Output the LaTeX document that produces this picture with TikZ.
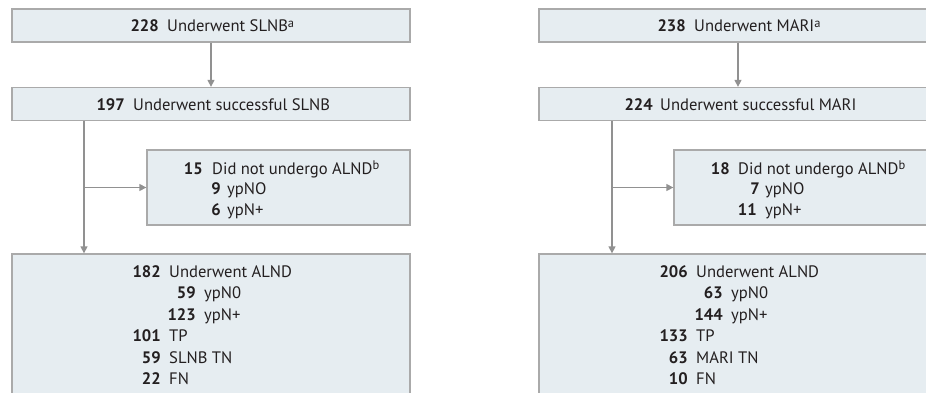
\documentclass[tikz,border=0pt]{standalone}
\usepackage{fontspec}
\setmainfont{PT Sans}
\usetikzlibrary{arrows.meta}
\definecolor{boxfill}{RGB}{230,237,241}
\definecolor{boxline}{RGB}{170,170,170}
\definecolor{arr}{RGB}{145,145,145}
\definecolor{txt}{RGB}{35,31,32}
\newcommand{\supr}[1]{\raisebox{0.6ex}{\fontsize{12.5}{13}\selectfont #1}}
\begin{document}
\begin{tikzpicture}[x=1pt,y=-1pt,
  box/.style={draw=boxline, fill=boxfill, line width=1.3pt, rectangle, inner sep=0pt},
  num/.style={anchor=base east, inner sep=0pt, text=txt, font=\fontsize{16.6}{18}\selectfont\bfseries},
  lab/.style={anchor=base west, inner sep=0pt, text=txt, font=\fontsize{16.6}{18}\selectfont},
  conn/.style={draw=arr, line width=1.3pt, -{Triangle[length=7pt,width=7pt]}}]
\useasboundingbox (0,0) rectangle (926,393);
\clip (0,0) rectangle (926,393);
% ---------- left column ----------
\node[box, minimum width=398pt, minimum height=33pt] (t1) at (211,25.5) {};
\node[box, minimum width=398pt, minimum height=33pt] (s1) at (211,104) {};
\node[box, minimum width=263pt, minimum height=75pt] (m1) at (278.5,187.5) {};
\node[box, minimum width=398pt, minimum height=160pt] (b1) at (211,334) {};
\coordinate (v1) at (84,120);
\draw[conn] (t1.south) -- (s1.north);
\draw[conn] (s1.south -| v1) -- (b1.north -| v1);
\draw[conn] (m1.west -| v1) -- (m1.west);
% texts
\node[num] (t1n) at (159,32) {228};
\node[lab] (t1l) at (167,32) {Underwent SLNB\supr{a}};
\node[num] (s1n) at (125,110.5) {197};
\node[lab] (s1l) at (133,110.5) {Underwent successful SLNB};
\node[num] (m1n1) at (203,174) {15};
\node[lab] (m1l1) at (212,174) {Did not undergo ALND\supr{b}};
\node[num] (m1n2) at (221,194.5) {9};
\node[lab] (m1l2) at (227,194.5) {ypNO};
\node[num] (m1n3) at (221,215) {6};
\node[lab] (m1l3) at (227,215) {ypN+};
\node[num] (b1n1) at (161,277) {182};
\node[lab] (b1l1) at (169,277) {Underwent ALND};
\node[num] (b1n2) at (196,298.5) {59};
\node[lab] (b1l2) at (204,298.5) {ypN0};
\node[num] (b1n3) at (196,320) {123};
\node[lab] (b1l3) at (204,320) {ypN+};
\node[num] (b1n4) at (161,341.5) {101};
\node[lab] (b1l4) at (169,341.5) {TP};
\node[num] (b1n5) at (161,363) {59};
\node[lab] (b1l5) at (169,363) {SLNB TN};
\node[num] (b1n6) at (161,384.5) {22};
\node[lab] (b1l6) at (169,384.5) {FN};
% ---------- right column ----------
\node[box, minimum width=398pt, minimum height=33pt] (t2) at (738,25.5) {};
\node[box, minimum width=398pt, minimum height=33pt] (s2) at (738,104) {};
\node[box, minimum width=263pt, minimum height=75pt] (m2) at (805.5,187.5) {};
\node[box, minimum width=398pt, minimum height=160pt] (b2) at (738,334) {};
\coordinate (v2) at (612,120);
\draw[conn] (t2.south) -- (s2.north);
\draw[conn] (s2.south -| v2) -- (b2.north -| v2);
\draw[conn] (m2.west -| v2) -- (m2.west);
\node[num] (t2n) at (686,32) {238};
\node[lab] (t2l) at (694,32) {Underwent MARI\supr{a}};
\node[num] (s2n) at (653,110.5) {224};
\node[lab] (s2l) at (660,110.5) {Underwent successful MARI};
\node[num] (m2n1) at (730,174) {18};
\node[lab] (m2l1) at (738,174) {Did not undergo ALND\supr{b}};
\node[num] (m2n2) at (760,194.5) {7};
\node[lab] (m2l2) at (765,194.5) {ypNO};
\node[num] (m2n3) at (757,215) {11};
\node[lab] (m2l3) at (765,215) {ypN+};
\node[num] (b2n1) at (688,277) {206};
\node[lab] (b2l1) at (696,277) {Underwent ALND};
\node[num] (b2n2) at (723,298.5) {63};
\node[lab] (b2l2) at (731,298.5) {ypN0};
\node[num] (b2n3) at (723,320) {144};
\node[lab] (b2l3) at (731,320) {ypN+};
\node[num] (b2n4) at (688,341.5) {133};
\node[lab] (b2l4) at (696,341.5) {TP};
\node[num] (b2n5) at (688,363) {63};
\node[lab] (b2l5) at (696,363) {MARI TN};
\node[num] (b2n6) at (688,384.5) {10};
\node[lab] (b2l6) at (696,384.5) {FN};
\end{tikzpicture}
\end{document}
